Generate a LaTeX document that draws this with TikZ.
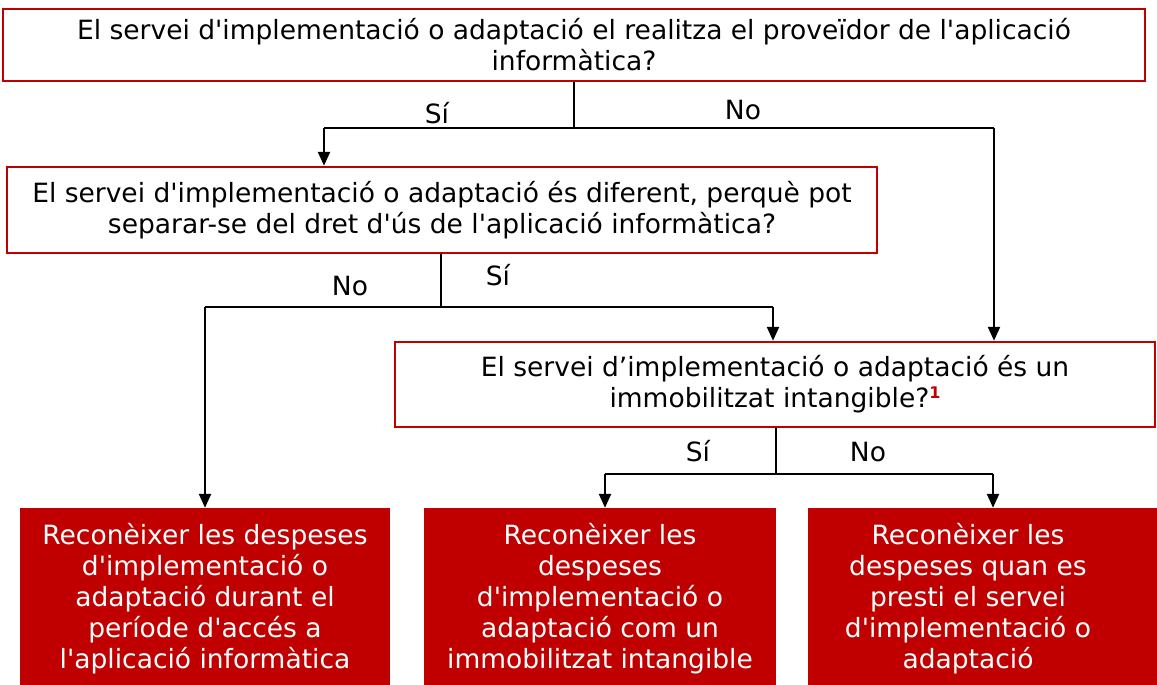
\documentclass[tikz,border=0pt]{standalone}
\usepackage{fontspec}
\setmainfont{DejaVu Sans}[Ligatures=TeXOff]
\usetikzlibrary{arrows.meta}
\definecolor{redc}{HTML}{C00000}
\begin{document}
\begin{tikzpicture}[x=1pt,y=-1pt,
  every node/.style={font=\fontsize{26.5}{31}\selectfont},
  qbox/.style={draw=redc, line width=2.5pt, fill=white, align=center, inner sep=0pt},
  abox/.style={fill=redc, inner sep=0pt},
  atext/.style={text=white, align=center, inner sep=0pt},
  conn/.style={line width=2.4pt, -{Triangle[width=12pt,length=14pt]}},
  seg/.style={line width=2.4pt},
  stub/.style={line width=1.2pt},
  lbl/.style={inner sep=0pt}]
\useasboundingbox (0,0) rectangle (1157,685);

% question boxes
\node[qbox, minimum width=1142pt, minimum height=72pt] (q1) at (574,45)
  {El servei d'implementació o adaptació el realitza el proveïdor de l'aplicació\\informàtica?};
\node[qbox, minimum width=870pt, minimum height=86pt] (q2) at (442,210)
  {El servei d'implementació o adaptació és diferent, perquè pot\\separar-se del dret d'ús de l'aplicació informàtica?};
\node[qbox, minimum width=760pt, minimum height=85pt] (q3) at (775,384.5)
  {El servei d’implementació o adaptació és un\\immobilitzat intangible?{\color{redc}\fontsize{16}{16}\selectfont\raisebox{9pt}{\textbf{1}}}};

% answer boxes
\node[abox, minimum width=370pt, minimum height=177pt] (a) at (205,596.5) {};
\node[atext] (at) at (205,599) {Reconèixer les despeses\\d'implementació o\\adaptació durant el\\període d'accés a\\l'aplicació informàtica};
\node[abox, minimum width=352pt, minimum height=177pt] (b) at (600,596.5) {};
\node[atext] (bt) at (600,599) {Reconèixer les\\despeses\\d'implementació o\\adaptació com un\\immobilitzat intangible};
\node[abox, minimum width=349pt, minimum height=177pt] (c) at (982.5,596.5) {};
\node[atext] (ct) at (968,599) {Reconèixer les\\despeses quan es\\presti el servei\\d'implementació o\\adaptació};

% junctions
\coordinate (j1) at (574,128);
\coordinate (j1l) at (324,128);
\coordinate (j1r) at (994,128);
\coordinate (j2) at (441,307);
\coordinate (j2l) at (205,307);
\coordinate (j2r) at (773,307);
\coordinate (j3) at (776,474);
\coordinate (j3l) at (605,474);
\coordinate (j3r) at (993,474);

% connectors
\draw[stub] (q1.south -| j1) -- (j1);
\draw[seg] (j1l) -- (j1r);
\draw[conn] (j1l) -- (j1l |- q2.north);
\draw[conn] (j1r) -- (j1r |- q3.north);

\draw[stub] (q2.south -| j2) -- (j2);
\draw[seg] (j2l) -- (j2r);
\draw[conn] (j2r) -- (j2r |- q3.north);
\draw[conn] (j2l) -- (j2l |- a.north);

\draw[stub] (q3.south -| j3) -- (j3);
\draw[seg] (j3l) -- (j3r);
\draw[conn] (j3l) -- (j3l |- b.north);
\draw[conn] (j3r) -- (j3r |- c.north);

% labels
\node[lbl] (l1) at (437,113) {Sí};
\node[lbl] (l2) at (743,110) {No};
\node[lbl] (l3) at (350,286) {No};
\node[lbl] (l4) at (498,275) {Sí};
\node[lbl] (l5) at (698,451) {Sí};
\node[lbl] (l6) at (868,452) {No};
\end{tikzpicture}
\end{document}
